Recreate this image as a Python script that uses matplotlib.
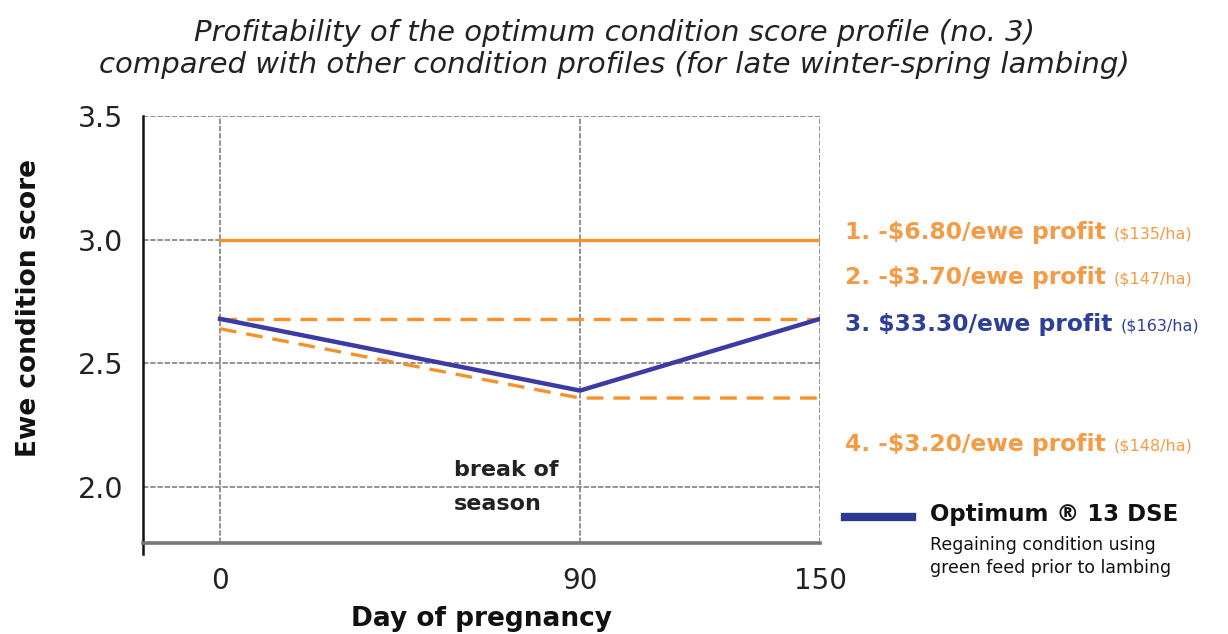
import matplotlib
matplotlib.use("Agg")
import matplotlib.pyplot as plt

# ---- data ----
days = [0, 90, 150]
profile1 = [3.0, 3.0, 3.0]
profile2 = [2.68, 2.68, 2.68]
profile3 = [2.68, 2.39, 2.68]
profile4 = [2.64, 2.36, 2.36]
x_ticks = [0, 90, 150]
y_ticks = [2.0, 2.5, 3.0, 3.5]
y_tick_labels = ["2.0", "2.5", "3.0", "3.5"]
profit_labels = [
    ("1. -$6.80/ewe profit", "($135/ha)"),
    ("2. -$3.70/ewe profit", "($147/ha)"),
    ("3. $33.30/ewe profit", "($163/ha)"),
    ("4. -$3.20/ewe profit", "($148/ha)"),
]

ORANGE = "#F7922A"
ORANGE_TXT = "#F59B45"
BLUE = "#3B3BA3"
BLUE_TXT = "#2E3F98"
GRID = "#8a8a8a"

fig = plt.figure(figsize=(12.28, 6.34), dpi=100)
ax = fig.add_axes([143/1228, 1-543/634, (820-143)/1228, (543-116)/634])
ax.set_xlim(-19.25, 150)
ax.set_ylim(1.774, 3.5)

# grid lines
for y in y_ticks:
    ax.axhline(y, color=GRID, lw=1.3, ls=(0, (3, 1)), zorder=1)
for x in x_ticks:
    ax.axvline(x, color=GRID, lw=1.3, ls=(0, (3, 1)), zorder=1)

ax.plot(days, profile1, color=ORANGE, lw=2.4, zorder=3)
ax.plot(days, profile2, color=ORANGE, lw=2.4, ls=(0, (5, 3)), zorder=3)
ax.plot(days, profile4, color=ORANGE, lw=2.4, ls=(0, (5, 3)), zorder=3)
ax.plot(days, profile3, color=BLUE, lw=3.2, zorder=4)

for s in ["top", "right"]:
    ax.spines[s].set_visible(False)
ax.spines["left"].set_color("#111111")
ax.spines["left"].set_linewidth(1.8)
ax.spines["left"].set_bounds(1.73, 3.5)
ax.spines["bottom"].set_color("#777777")
ax.spines["bottom"].set_linewidth(2.6)

ax.set_xticks(x_ticks)
ax.set_xticklabels([str(v) for v in x_ticks], fontsize=20)
ax.set_yticks(y_ticks)
ax.set_yticklabels(y_tick_labels, fontsize=20.5)
ax.tick_params(axis="both", length=0, pad=14, colors="#222222")
ax.tick_params(axis="x", pad=17)

ax.set_ylabel("Ewe condition score", fontsize=19, fontweight="bold", color="#111111")
ax.yaxis.set_label_coords(-0.149, 0.55)
ax.set_xlabel("Day of pregnancy", fontsize=19, fontweight="bold", labelpad=8, color="#111111")

ax.text(58.5, 2.0, "break of\nseason", fontsize=16, fontweight="bold",
        color="#222222", ha="left", va="center", linespacing=1.85)

fig.text(0.5, 1-49/634, "Profitability of the optimum condition score profile (no. 3)\n"
         "compared with other condition profiles (for late winter-spring lambing)",
         ha="center", va="center", fontsize=21, style="italic",
         color="#222222", linespacing=1.15)

# right-hand annotations
ypix = [233, 278, 325, 445]
cols = [ORANGE_TXT, ORANGE_TXT, BLUE_TXT, ORANGE_TXT]
for (main, sub), yp, c in zip(profit_labels, ypix, cols):
    t = fig.text(845/1228, 1-yp/634, main, fontsize=16.8, fontweight="bold",
                 color=c, ha="left", va="center")
    fig.canvas.draw()
    bb = t.get_window_extent()
    fig.text((bb.x1 + 8)/1228, 1-(yp+1)/634, sub, fontsize=11.5,
             color=c, ha="left", va="center")

fig.lines.append(plt.Line2D([845/1228, 912/1228], [1-517/634, 1-517/634],
                            transform=fig.transFigure, color="#2B3990", lw=6))
fig.text(930/1228, 1-515/634, "Optimum \u00ae 13 DSE", fontsize=16.5,
         fontweight="bold", color="#111111", ha="left", va="center")
fig.text(930/1228, 1-545/634, "Regaining condition using", fontsize=12.5,
         color="#111111", ha="left", va="center")
fig.text(930/1228, 1-568/634, "green feed prior to lambing", fontsize=12.5,
         color="#111111", ha="left", va="center")

fig.savefig("out.png", dpi=100)
